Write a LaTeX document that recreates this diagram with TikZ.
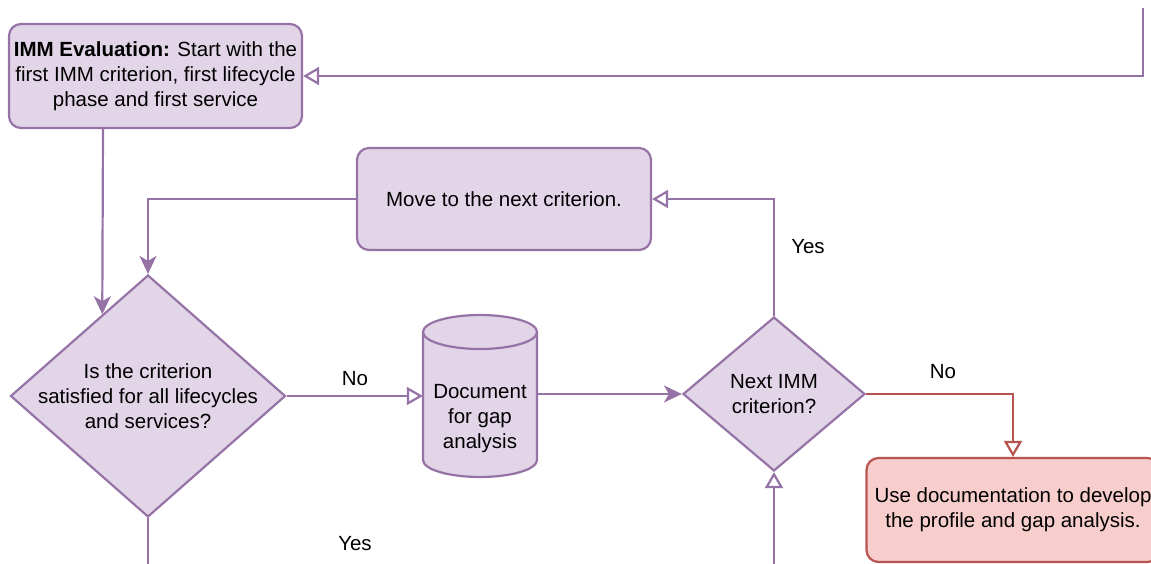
\documentclass[tikz,border=0pt]{standalone}
\usepackage{fontspec}
\setmainfont{Liberation Sans}
\usetikzlibrary{arrows.meta,shapes.geometric,calc}
\definecolor{pfill}{HTML}{E1D5E7}
\definecolor{pdraw}{HTML}{9673A6}
\definecolor{rfill}{HTML}{F8CECC}
\definecolor{rdraw}{HTML}{B85450}
\begin{document}
\begin{tikzpicture}[x=1pt,y=-1pt,
  font=\fontsize{20.5}{25}\selectfont,
  box/.style={draw=pdraw, fill=pfill, line width=2.2pt, rounded corners=12pt, align=center,
    minimum width=293pt, minimum height=104pt, inner sep=0pt},
  redbox/.style={box, draw=rdraw, fill=rfill},
  dia/.style={diamond, draw=pdraw, fill=pfill, line width=2.2pt, inner sep=0pt},
  lbl/.style={inner sep=0pt},
  conn/.style={draw=pdraw, line width=2.2pt},
  arrF/.style={conn, -{Stealth[length=18pt,width=17pt,inset=5pt]}},
  arrO/.style={conn, -{Triangle[open,length=16pt,width=18pt,fill=white]}},
  arrR/.style={arrO, draw=rdraw}
]
\useasboundingbox (0,0) rectangle (1151,563);
\clip (0,0) rectangle (1151,563);

% nodes
\node[box] (A) at (155.5,76) {\textbf{IMM Evaluation:} Start with the\\first IMM criterion, first lifecycle\\phase and first service};
\node[box, minimum width=294pt, minimum height=102pt] (B) at (504,199) {Move to the next criterion.};
\node[dia, minimum width=275pt, minimum height=242pt,
  label={[align=center,lbl]center:Is the criterion\\satisfied for all lifecycles\\and services?}] (C) at (148,396) {};
\node[dia, minimum width=182pt, minimum height=154pt,
  label={[align=center,lbl]center:Next IMM\\criterion?}] (E) at (774,394) {};
\node[redbox] (F) at (1013,510) {Use documentation to develop\\the profile and gap analysis.};

% cylinder
\fill[pfill] (423,332) rectangle (537,460);
\fill[pfill] (480,460) ellipse[x radius=57, y radius=17];
\draw[pdraw, line width=2.2pt] (423,332) -- (423,460) arc[start angle=180, end angle=0, x radius=57, y radius=17] -- (537,332);
\filldraw[fill=pfill, draw=pdraw, line width=2.2pt] (480,332) ellipse[x radius=57, y radius=17];
\node[minimum width=114pt, minimum height=162pt, inner sep=0pt] (D) at (480,396) {};
\node[lbl, align=center] (Dt) at (480,419) {Document\\for gap\\analysis};

% free ends
\coordinate (topin) at (1143,8);
\coordinate (ax) at (103,0);
\coordinate (Cq) at ($(C.west)!0.67!(C.north)$);
\coordinate (Cend) at (148,580);
\coordinate (Ein) at (774,580);

% connectors
\draw[arrO] (topin) |- (A.east);
\draw[arrF] (A.south -| ax) -- (Cq);
\draw[arrF] (B.west) -| (C.north);
\draw[conn] (C.south) -- (Cend);
\draw[arrO] (C.east) -- (C.east -| D.west);
\draw[arrF] (D.east |- E.west) -- (E.west);
\draw[arrO] (E.north) |- (B.east);
\draw[arrO] (Ein) -- (E.south);
\draw[arrR] (E.east) -| (F.north);

% labels
\node[lbl] (no1) at (355,379) {No};
\node[lbl] (yes1) at (355,544) {Yes};
\node[lbl] (yes2) at (808,247) {Yes};
\node[lbl] (no2) at (943,372) {No};
\end{tikzpicture}
\end{document}
